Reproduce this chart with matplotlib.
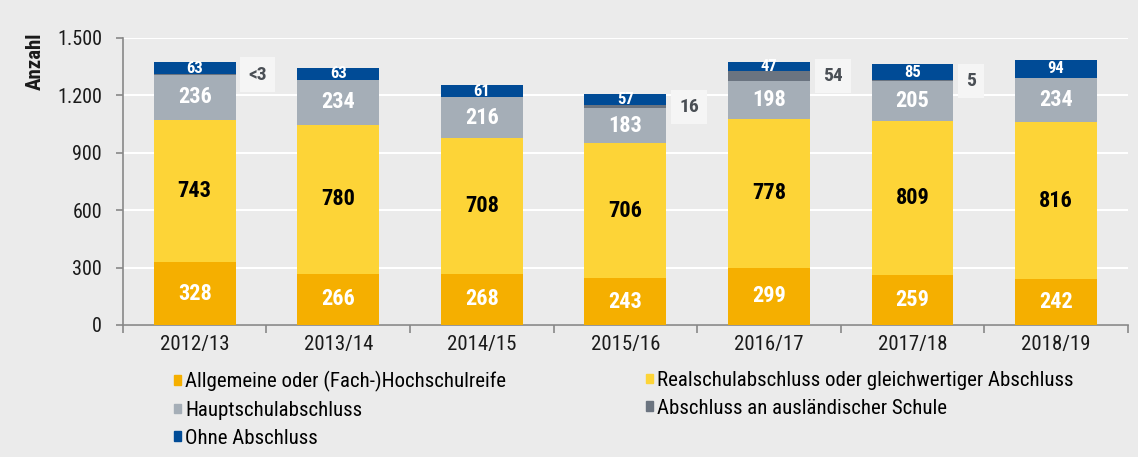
import numpy as np
import matplotlib.pyplot as plt
from matplotlib.patches import Patch

plt.rcParams['font.family'] = ['Roboto Condensed', 'Liberation Sans Narrow', 'DejaVu Sans']

years = ['2012/13', '2013/14', '2014/15', '2015/16', '2016/17', '2017/18', '2018/19']
allgemein = [328, 266, 268, 243, 299, 259, 242]
realschul = [743, 780, 708, 706, 778, 809, 816]
haupt = [236, 234, 216, 183, 198, 205, 234]
ausland = [2, 0, 0, 16, 54, 5, 0]
ausland_text = ['<3', '', '', '16', '54', '5', '']
ohne = [63, 63, 61, 57, 47, 85, 94]

names = ['Allgemeine oder (Fach-)Hochschulreife',
         'Realschulabschluss oder gleichwertiger Abschluss',
         'Hauptschulabschluss',
         'Abschluss an ausländischer Schule',
         'Ohne Abschluss']
colors = ['#f5af00', '#fdd437', '#a5aeb7', '#6b7480', '#004b96']
text_colors = ['white', 'black', 'white', None, 'white']
text_sizes = [16, 16, 16, None, 12]

bg = '#ebebeb'
fig = plt.figure(figsize=(11.38, 4.57), dpi=100, facecolor=bg)
ax = fig.add_axes([0.108, 0.289, 0.883, 0.628], facecolor=bg)

x = np.arange(len(years))
w = 0.57
series = [allgemein, realschul, haupt, ausland, ohne]
bottom = np.zeros(len(years))
for i, vals in enumerate(series):
    vals = np.array(vals, dtype=float)
    ax.bar(x, vals, w, bottom=bottom, color=colors[i], zorder=3)
    if text_colors[i] is not None:
        for xi, v, b in zip(x, vals, bottom):
            ax.text(xi, b + v / 2, f'{int(v)}', ha='center', va='center',
                    color=text_colors[i], fontsize=text_sizes[i],
                    fontweight='bold', zorder=4)
    else:
        for xi, v, b, t in zip(x, vals, bottom, ausland_text):
            if t:
                ax.text(xi + w / 2 + 0.09, b + v / 2, t, ha='left', va='center',
                        color='#4a4f55', fontsize=14, fontweight='bold', zorder=4,
                        bbox=dict(boxstyle='square,pad=0.42', fc='#f5f5f5', ec='none'))
    bottom += vals

ax.set_xlim(-0.5, len(years) - 0.5)
ax.set_ylim(0, 1500)
ax.set_yticks(np.arange(0, 1501, 300))
ax.set_yticklabels(['0', '300', '600', '900', '1.200', '1.500'])
ax.set_xticks(x)
ax.set_xticklabels(years)
ax.set_xticks(np.arange(-0.5, len(years)), minor=True)
ax.tick_params(axis='x', which='major', length=0, pad=7, labelsize=15, labelcolor='#1a1a1a')
ax.tick_params(axis='x', which='minor', length=6, color='#888888', width=1.2)
ax.tick_params(axis='y', length=5, color='#888888', width=1.2, pad=10,
               labelsize=14.5, labelcolor='#1a1a1a')
ax.grid(axis='y', color='white', linewidth=1.5, zorder=0)
for s in ['top', 'right']:
    ax.spines[s].set_visible(False)
for s in ['left', 'bottom']:
    ax.spines[s].set_color('#888888')
    ax.spines[s].set_linewidth(1.2)

fig.text(35 / 1138, 1 - 33 / 457, 'Anzahl', rotation=90, ha='center', va='top',
         fontsize=15, fontweight='bold', color='#1a1a1a')

handles = [Patch(color=c) for c in colors]
leg_kw = dict(loc='upper left', frameon=False, fontsize=15, handlelength=0.34,
              handleheight=0.34, handletextpad=0.2, labelspacing=0.42, borderpad=0,
              borderaxespad=0)
fig.legend([handles[0], handles[2], handles[4]], [names[0], names[2], names[4]],
           bbox_to_anchor=(174 / 1138, 1 - 371 / 457), **leg_kw)
fig.legend([handles[1], handles[3]], [names[1], names[3]],
           bbox_to_anchor=(646 / 1138, 1 - 371 / 457), **leg_kw)

fig.savefig('out.png', dpi=100, facecolor=bg)
